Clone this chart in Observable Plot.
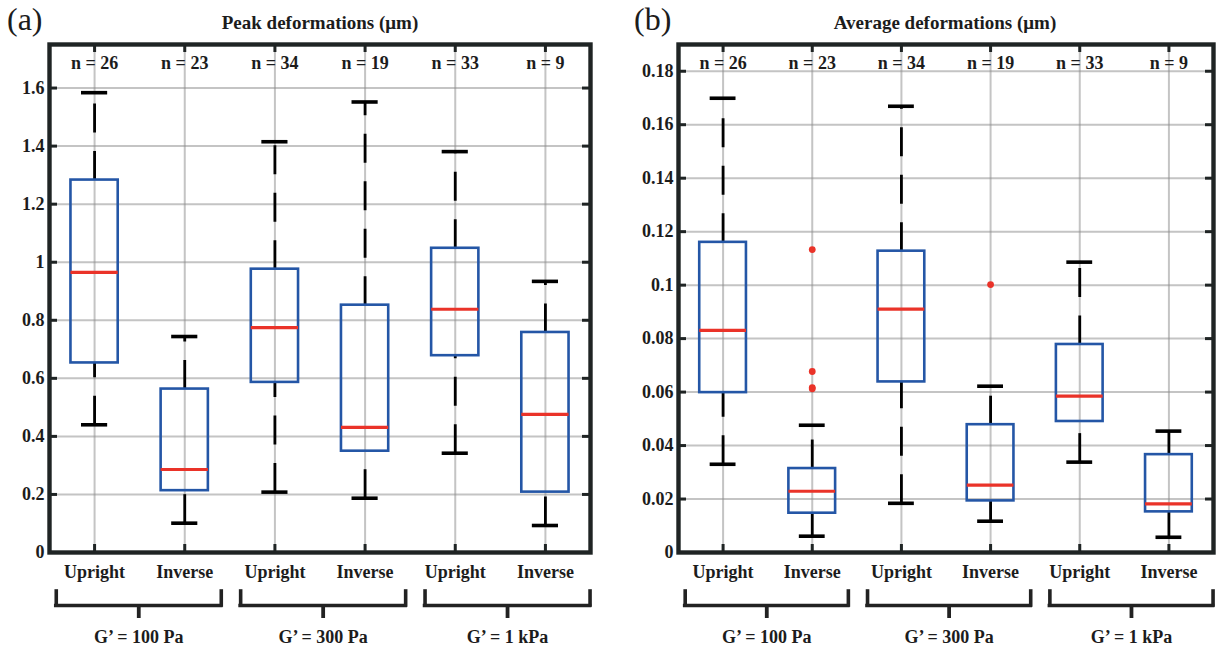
<!DOCTYPE html>
<html><head><meta charset="utf-8">
<script src="https://cdn.jsdelivr.net/npm/d3@7"></script>
<script src="https://cdn.jsdelivr.net/npm/@observablehq/plot@0.6"></script>
<style>
body{margin:0;background:#fff;}
#root{position:relative;width:1219px;height:650px;overflow:hidden;font-family:"Liberation Serif","Times New Roman",serif;color:#1c1c1c;}
.panel{position:absolute;top:0;}
.tag{position:absolute;font-size:32px;line-height:1;white-space:nowrap;}
.title{position:absolute;font-size:19px;font-weight:bold;line-height:1;text-align:center;white-space:nowrap;}
</style></head><body><div id="root"></div>
<script>
// ---- data ----
const categories = ["Upright", "Inverse", "Upright", "Inverse", "Upright", "Inverse"];
const groupLabels = ["G\u2019 = 100 Pa", "G\u2019 = 300 Pa", "G\u2019 = 1 kPa"];
const nCounts = [26, 23, 34, 19, 33, 9];

const peakTicks = [0, 0.2, 0.4, 0.6, 0.8, 1.0, 1.2, 1.4, 1.6];
const peakLow  = [0.440, 0.101, 0.208, 0.187, 0.342, 0.093];
const peakQ1   = [0.653, 0.213, 0.586, 0.349, 0.678, 0.208];
const peakMed  = [0.965, 0.286, 0.775, 0.431, 0.838, 0.476];
const peakQ3   = [1.283, 0.563, 0.976, 0.852, 1.048, 0.758];
const peakHigh = [1.584, 0.744, 1.415, 1.552, 1.381, 0.934];
const peakOutCat = [];
const peakOutVal = [];

const avgTicks = [0, 0.02, 0.04, 0.06, 0.08, 0.10, 0.12, 0.14, 0.16, 0.18];
const avgLow  = [0.0330, 0.0061, 0.0184, 0.0117, 0.0338, 0.0057];
const avgQ1   = [0.0598, 0.0147, 0.0638, 0.0193, 0.0490, 0.0152];
const avgMed  = [0.0831, 0.0229, 0.0910, 0.0252, 0.0585, 0.0182];
const avgQ3   = [0.1160, 0.0314, 0.1127, 0.0478, 0.0778, 0.0366];
const avgHigh = [0.1699, 0.0476, 0.1669, 0.0622, 0.1086, 0.0454];
const avgOutCat = [2, 2, 2, 2, 4];
const avgOutVal = [0.1133, 0.0677, 0.0617, 0.0612, 0.1002];

// ---- styles ----
const BLUE = "#2456a6", RED = "#ea3329", DARK = "#1f2424", GRID = "#8a8a8a";

function makePanel(o) {
  const height = 650, marginTop = 44, marginBottom = 98;
  const plotW = o.width - o.marginLeft - o.marginRight;
  const plotH = height - marginTop - marginBottom;
  const idx = categories.map((_, i) => i + 1);
  const boxes = idx.map((x, i) => ({
    x, low: o.low[i], q1: o.q1[i], med: o.med[i], q3: o.q3[i], high: o.high[i],
    n: nCounts[i], label: categories[i]
  }));
  const outs = o.outCat.map((c, i) => ({x: c, y: o.outVal[i]}));
  const half = 0.262, capHalf = 0.145;
  const groups = groupLabels.map((label, k) => {
    const x1 = 0.575 + 2.045 * k, x2 = x1 + 1.83;
    return {label, x1, x2, xm: (x1 + x2) / 2};
  });
  const ends = groups.flatMap(g => [g.x1, g.x2]);
  const fmt = d => String(+d.toFixed(3));
  const y0 = o.yDomain[0];
  const txt = {fill: "#1c1c1c", lineAnchor: "middle"};

  return Plot.plot({
    width: o.width, height,
    marginLeft: o.marginLeft, marginRight: o.marginRight, marginTop, marginBottom,
    x: {domain: [0.5, 6.5], axis: null},
    y: {domain: o.yDomain, axis: null},
    style: {fontFamily: "'Liberation Serif', 'Times New Roman', serif", fontSize: "18px", fontWeight: "bold", color: "#1c1c1c", background: "white"},
    marks: [
      // grid
      Plot.ruleY(o.ticks, {y: d => d, stroke: GRID, strokeOpacity: 0.5, strokeWidth: 2}),
      Plot.ruleX(idx, {x: d => d, stroke: GRID, strokeOpacity: 0.5, strokeWidth: 2}),
      // frame ticks (inside)
      Plot.tickY(o.ticks, {y: d => d, insetRight: plotW - 8, stroke: DARK, strokeWidth: 3}),
      Plot.tickY(o.ticks, {y: d => d, insetLeft: plotW - 8, stroke: DARK, strokeWidth: 3}),
      Plot.tickX(idx, {x: d => d, insetBottom: plotH - 8, stroke: DARK, strokeWidth: 3}),
      Plot.tickX(idx, {x: d => d, insetTop: plotH - 8, stroke: DARK, strokeWidth: 3}),
      // whiskers
      Plot.link(boxes, {x1: "x", x2: "x", y1: "q3", y2: "high", stroke: "black", strokeWidth: 2.8, strokeDasharray: "29,18.5"}),
      Plot.link(boxes, {x1: "x", x2: "x", y1: "low", y2: "q1", stroke: "black", strokeWidth: 2.8, strokeDasharray: "29,18.5"}),
      Plot.ruleY(boxes, {y: "high", x1: d => d.x - capHalf, x2: d => d.x + capHalf, stroke: "black", strokeWidth: 3.6}),
      Plot.ruleY(boxes, {y: "low", x1: d => d.x - capHalf, x2: d => d.x + capHalf, stroke: "black", strokeWidth: 3.6}),
      // boxes
      Plot.rect(boxes, {x1: d => d.x - half, x2: d => d.x + half, y1: "q1", y2: "q3", fill: "none", stroke: BLUE, strokeWidth: 2.6}),
      Plot.ruleY(boxes, {y: "med", x1: d => d.x - half, x2: d => d.x + half, stroke: RED, strokeWidth: 3.2}),
      Plot.dot(outs, {x: "x", y: "y", r: 3.4, fill: RED, stroke: null}),
      // frame
      Plot.frame({stroke: DARK, strokeWidth: 4.4}),
      // labels
      Plot.text(o.ticks, {y: d => d, text: fmt, frameAnchor: "left", textAnchor: "end", dx: -5, ...txt}),
      Plot.text(boxes, {x: "x", text: d => `n = ${d.n}`, frameAnchor: "top", dy: 19, ...txt}),
      Plot.text(boxes, {x: "x", text: "label", frameAnchor: "bottom", dy: 20, ...txt}),
      // brackets
      Plot.ruleY(groups, {y: () => y0, x1: "x1", x2: "x2", dy: 53, stroke: "#222", strokeWidth: 3.6, strokeLinecap: "square"}),
      Plot.tickX(ends, {x: d => d, insetTop: plotH - 14, dy: 53, stroke: "#222", strokeWidth: 3.6, strokeLinecap: "square"}),
      Plot.tickX(groups, {x: "xm", insetTop: plotH - 13, dy: 66, stroke: "#222", strokeWidth: 3.8}),
      Plot.text(groups, {x: "xm", text: "label", frameAnchor: "bottom", dy: 85, ...txt})
    ]
  });
}

const root = document.getElementById("root");
function place(el, left) {
  const d = document.createElement("div");
  d.className = "panel";
  d.style.left = left + "px";
  d.appendChild(el);
  root.appendChild(d);
}
function addText(cls, text, css) {
  const d = document.createElement("div");
  d.className = cls;
  d.textContent = text;
  Object.assign(d.style, css);
  root.appendChild(d);
}

place(makePanel({
  width: 610, marginLeft: 49, marginRight: 20, yDomain: [0, 1.75], ticks: peakTicks,
  low: peakLow, q1: peakQ1, med: peakMed, q3: peakQ3, high: peakHigh,
  outCat: peakOutCat, outVal: peakOutVal
}), 0);
place(makePanel({
  width: 609, marginLeft: 68, marginRight: 6, yDomain: [0, 0.19], ticks: avgTicks,
  low: avgLow, q1: avgQ1, med: avgMed, q3: avgQ3, high: avgHigh,
  outCat: avgOutCat, outVal: avgOutVal
}), 610);

addText("tag", "(a)", {left: "7px", top: "3px"});
addText("tag", "(b)", {left: "634px", top: "3px"});
addText("title", "Peak deformations (\u03bcm)", {left: "170px", width: "300px", top: "13px"});
addText("title", "Average deformations (\u03bcm)", {left: "795px", width: "300px", top: "13px"});
</script>
</body></html>
